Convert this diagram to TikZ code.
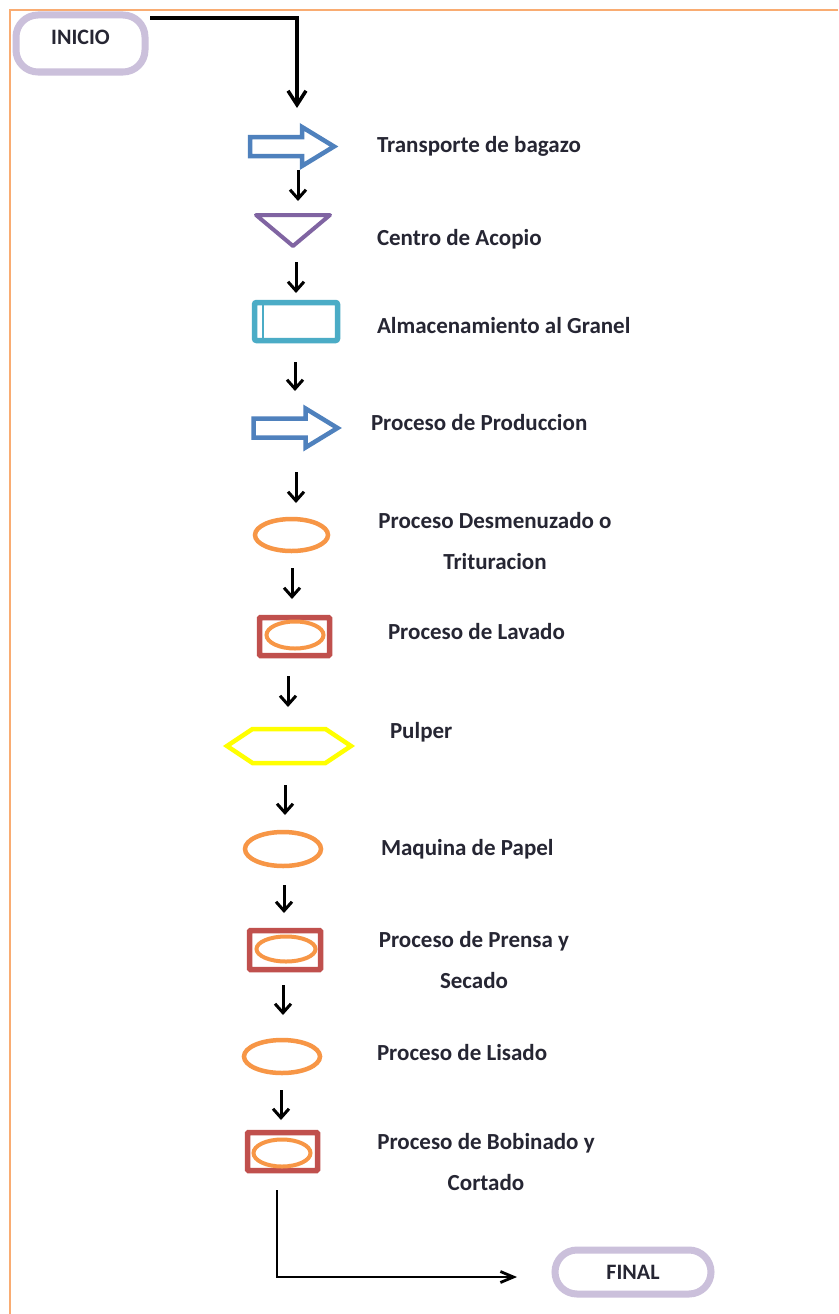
\documentclass[tikz,border=0pt]{standalone}
\usepackage{fontspec}
\setmainfont{Carlito}
\usetikzlibrary{arrows.meta,shapes.geometric}
\definecolor{frameor}{HTML}{F9AC72}
\definecolor{lav}{HTML}{CBC0DB}
\definecolor{bblue}{HTML}{4F81BD}
\definecolor{ppurple}{HTML}{8064A2}
\definecolor{ccyan}{HTML}{4BACC6}
\definecolor{oor}{HTML}{F79646}
\definecolor{rred}{HTML}{C0504D}
\definecolor{yyel}{HTML}{FFFF00}
\definecolor{txt}{HTML}{262633}
\tikzset{
  every node/.style={outer sep=0pt, inner sep=0pt},
  lbl/.style={anchor=base west, text=txt, font=\fontsize{23}{41}\selectfont\bfseries},
  lbltwo/.style={anchor=base, align=center, text=txt, font=\fontsize{23}{41}\selectfont\bfseries},
  term/.style={draw=lav, line width=7pt, rounded corners=22pt, text=txt, font=\fontsize{22}{26}\selectfont\bfseries},
  ovalshape/.style={ellipse, draw=oor, line width=4.5pt},
  ovalin/.style={ellipse, draw=oor, line width=4pt},
  redbox/.style={draw=rred, line width=5.5pt, rounded corners=1pt},
  arr/.style={black, line width=3pt, -{Straight Barb[length=9pt,width=16pt,line width=3pt]}},
  conn/.style={black, line width=3.5pt, -{Straight Barb[length=14pt,width=18pt,line width=3.5pt]}},
  blockarrow/.pic={
    \node[minimum width=84pt, minimum height=39pt] (-n) {};
    \draw[bblue, line width=4.5pt, line join=miter] (-42,-9.5) -- (10,-9.5) -- (10,-19.5) -- (42,0) -- (10,19.5) -- (10,9.5) -- (-42,9.5) -- cycle;
  },
  hexa/.pic={
    \node[minimum width=124pt, minimum height=34pt] (-n) {};
    \draw[yyel, line width=4.5pt, line join=miter] (-62,0) -- (-36.5,-17) -- (36.5,-17) -- (62,0) -- (36.5,17) -- (-36.5,17) -- cycle;
  },
}
\begin{document}
\begin{tikzpicture}[x=1pt,y=-1pt]
\useasboundingbox (0,0) rectangle (838,1314);
\fill[white] (0,0) rectangle (838,1314);
\draw[frameor, line width=2pt] (838,10) -- (10,10) -- (10,1314);

% terminals
\node[term, minimum width=129pt, minimum height=57pt, text depth=13pt] (ini) at (80.5,43.5) {INICIO};
\node[term, minimum width=156pt, minimum height=44pt] (fin) at (633,1272) {FINAL};

% shapes
\pic (t1) at (292,146.5) {blockarrow};
\node[minimum width=74pt, minimum height=31pt] (tri) at (293,230.5) {};
\draw[ppurple, line width=4pt, line join=round] (tri.north west) -- (tri.north east) -- (tri.south) -- cycle;
\node[draw=ccyan, line width=5.5pt, rounded corners=2pt, minimum width=83pt, minimum height=38pt] (alm) at (296,321.5) {};
\draw[ccyan, line width=2.5pt] ([xshift=8.5pt]alm.north west) -- ([xshift=8.5pt]alm.south west);
\pic (t2) at (295.5,428) {blockarrow};
\node[ovalshape, minimum width=73pt, minimum height=32pt] (des) at (291.5,535) {};
\node[redbox, minimum width=70pt, minimum height=38pt] (lavr) at (294.5,636.5) {};
\node[ovalin, minimum width=57pt, minimum height=27pt] (lave) at (295,635) {};
\pic (pul) at (289,746) {hexa};
\node[ovalshape, minimum width=76pt, minimum height=34pt] (maq) at (283,849) {};
\node[redbox, minimum width=71pt, minimum height=39pt] (prr) at (285,950) {};
\node[ovalin, minimum width=59pt, minimum height=25pt] (pre) at (286,949) {};
\node[ovalshape, minimum width=76pt, minimum height=33pt] (lis) at (282,1056.5) {};
\node[redbox, minimum width=70pt, minimum height=38pt] (bobr) at (282.5,1151.5) {};
\node[ovalin, minimum width=57pt, minimum height=27pt] (bobe) at (282,1153) {};

% labels
\node[lbl] (l1) at (377,152) {Transporte de bagazo};
\node[lbl] (l2) at (377,245) {Centro de Acopio};
\node[lbl] (l3) at (377,333) {Almacenamiento al Granel};
\node[lbl] (l4) at (371,430) {Proceso de Produccion};
\node[lbltwo] (l5) at (495,569) {Proceso Desmenuzado o\\Trituracion};
\node[lbl] (l6) at (388,639) {Proceso de Lavado};
\node[lbl] (l7) at (390,738) {Pulper};
\node[lbl] (l8) at (381,855) {Maquina de Papel};
\node[lbltwo] (l9) at (474,988) {Proceso de Prensa y\\Secado};
\node[lbl] (l10) at (377,1060) {Proceso de Lisado};
\node[lbltwo] (l11) at (486,1190) {Proceso de Bobinado y\\Cortado};

% connectors
\draw[conn] ([shift={(5,3)}]ini.north east) -| ([shift={(5,-19)}]t1-n.north);
\draw[arr] ([shift={(6,4)}]t1-n.south) -- ([shift={(5,-14)}]tri.north);
\draw[arr] ([shift={(3,16)}]tri.south) -- ([shift={(0,-9.5)}]alm.north);
\draw[arr] ([shift={(-1,21.5)}]alm.south) -- ([shift={(-0.5,-17.5)}]t2-n.north);
\draw[arr] ([shift={(0.5,24.5)}]t2-n.south) -- ([shift={(4.5,-16)}]des.north);
\draw[arr] ([shift={(0.5,17)}]des.south) -- ([shift={(-2.5,-18.5)}]lavr.north);
\draw[arr] ([shift={(-6.5,20.5)}]lavr.south) -- ([shift={(-1,-22)}]pul-n.north);
\draw[arr] ([shift={(-4,22)}]pul-n.south) -- ([shift={(2,-17)}]maq.north);
\draw[arr] ([shift={(1,19)}]maq.south) -- ([shift={(-1,-17.5)}]prr.north);
\draw[arr] ([shift={(-2,15.5)}]prr.south) -- ([shift={(1,-25)}]lis.north);
\draw[arr] ([shift={(-1,17)}]lis.south) -- ([shift={(-1.5,-12.5)}]bobr.north);
\draw[black, line width=2.8pt, -{Straight Barb[length=13pt,width=11pt,line width=2.8pt]}] ([shift={(-5.5,19.5)}]bobr.south) |- ([shift={(-38,5)}]fin.west);
\end{tikzpicture}
\end{document}
